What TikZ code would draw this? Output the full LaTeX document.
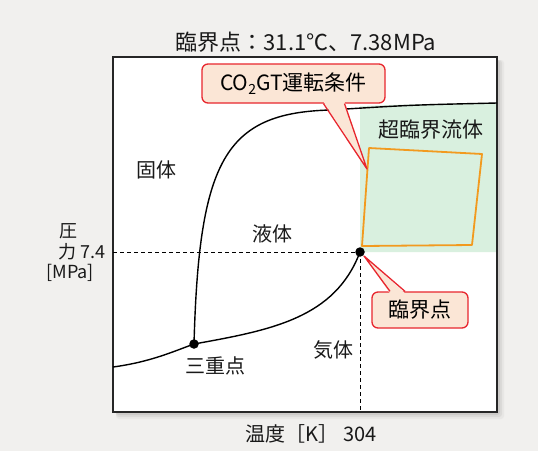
\documentclass[tikz,border=0pt]{standalone}
\usepackage{fontspec}
\setmainfont{Noto Sans CJK JP}
\usetikzlibrary{calc}
\definecolor{bgc}{HTML}{F1F0EE}
\definecolor{shad}{HTML}{B8B6B4}
\definecolor{greenc}{HTML}{D9F0DF}
\definecolor{calloutfill}{HTML}{FBE6D6}
\definecolor{calloutred}{HTML}{E8262E}
\definecolor{orangec}{HTML}{F29A1F}
\tikzset{
  lbl/.style={font=\fontsize{20}{20}\selectfont, inner sep=0pt, text=black!90},
  ylbl/.style={lbl, font=\fontsize{18}{18}\selectfont},
  callout/.style={draw=calloutred, fill=calloutfill, line width=1.3pt, rounded corners=6pt, inner sep=0pt, font=\fontsize{21}{21}\selectfont},
  curve/.style={line width=1.4pt, black},
  guide/.style={dashed, line width=0.7pt, dash pattern=on 4pt off 3pt},
  dot/.style={circle, fill=black, inner sep=0pt, minimum size=9.5pt},
}
\begin{document}
\begin{tikzpicture}[x=1pt,y=-1pt]
\fill[bgc] (0,0) rectangle (538,451);
\useasboundingbox (0,0) rectangle (538,451);
% shadow
\foreach \o/\op in {7/0.15,5/0.25,3/0.4}{
  \fill[shad, opacity=\op, rounded corners=3pt] (116,60) rectangle ($(497,412)+(\o,\o)$);
}
% frame
\fill[white] (113,57) rectangle (497,412);
% green supercritical region
\fill[greenc] (360,106) .. controls (420,104) .. (497,103) -- (497,252) -- (360,252) -- cycle;
\draw[line width=1.2pt, black!85] (113,57) rectangle (497,412);

% key points
\coordinate (crit) at (360,252);
\coordinate (trip) at (194,344);
\coordinate (yax) at (113,252);
\coordinate (xax) at (360,412);
\coordinate (left) at (113,367);
\coordinate (topr) at (497,103);

% dashed guides
\draw[guide] (yax) -- (crit);
\draw[guide] (crit) -- (xax);

% orange quadrilateral
\draw[orangec, line width=1.8pt, line join=round] (369,148) -- (482,154) -- (472,245) -- (362,246) -- cycle;

% curves
\draw[curve] (left) .. controls (150,362) and (172,352) .. (trip);
\draw[curve] (trip) .. controls (272,330) and (335,318) .. (crit);
\draw[curve] (trip) .. controls (199,160) and (225,113) .. (330,110) .. controls (410,105) .. (topr);

\node[dot] (critdot) at (crit) {};
\node[dot] (tripdot) at (trip) {};

% labels
\node[lbl, font=\fontsize{22}{22}\selectfont] (title) at (306,42) {臨界点：31.1℃、7.38MPa};
\node[lbl] (xlabel) at (311,434) {温度［K］ 304};
\node[ylbl, anchor=west] (yl1) at (59,231) {圧};
\node[ylbl, anchor=east] (yl2) at (106,252) {力 7.4};
\node[ylbl, anchor=east] (yl3) at (94,273) {[MPa]};
\node[lbl] (solid) at (156,170) {固体};
\node[lbl] (liquid) at (272,234) {液体};
\node[lbl] (gas) at (333,350) {気体};
\node[lbl] (triplbl) at (215,366) {三重点};
\node[lbl, font=\fontsize{21}{21}\selectfont] (scf) at (431,130) {超臨界流体};

% callout CO2GT
\node[callout, minimum width=183pt, minimum height=39pt] (co2) at (293.5,83.5) {CO\raisebox{-0.35ex}{\fontsize{14}{14}\selectfont 2}GT運転条件};
\coordinate (co2tip) at (367,169);
\fill[calloutfill] ($(co2.south)+(30,-2)$) -- (co2tip) -- ($(co2.south)+(51,-2)$) -- cycle;
\draw[calloutred, line width=1.3pt, line join=round] ($(co2.south)+(30,0)$) -- (co2tip) -- ($(co2.south)+(51,0)$);

% callout critical point
\node[callout, minimum width=96pt, minimum height=36pt] (critc) at (420,310) {臨界点};
\coordinate (crittip) at (364,256);
\fill[calloutfill] ($(critc.north)+(-30,2)$) -- (crittip) -- ($(critc.north)+(-15,2)$) -- cycle;
\draw[calloutred, line width=1.3pt, line join=round] ($(critc.north)+(-30,0)$) -- (crittip) -- ($(critc.north)+(-15,0)$);
\end{tikzpicture}
\end{document}
